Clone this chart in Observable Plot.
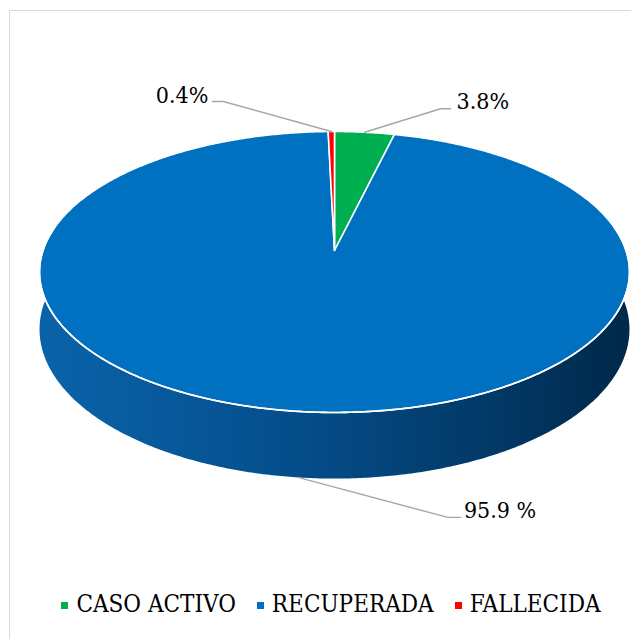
<!DOCTYPE html>
<html>
<head>
<meta charset="utf-8">
<script src="https://cdn.jsdelivr.net/npm/d3@7"></script>
<script src="https://cdn.jsdelivr.net/npm/@observablehq/plot@0.6"></script>
<style>
html, body { margin: 0; padding: 0; background: #fff; width: 631px; height: 639px; overflow: hidden; }
#wrap { position: relative; width: 631px; height: 639px; font-family: "DejaVu Serif Condensed", "DejaVu Serif", serif; }
#frame { position: absolute; left: 9px; top: 10px; width: 700px; height: 700px; border: 1.5px solid #d9d9d9; box-sizing: border-box; pointer-events: none; }
#chart svg { display: block; }
#chart svg text { font-family: "DejaVu Serif Condensed", "DejaVu Serif", serif; }
#legend { display: flex; justify-content: center; padding-left: 31px; margin-top: 7px; font-size: 24px; line-height: 24px; color: #000; white-space: nowrap; }
.item { display: flex; align-items: center; margin: 0 10.5px; }
.sw { width: 7px; height: 7px; margin-right: 8px; position: relative; top: 1px; }
</style>
</head>
<body>
<div id="wrap">
  <div id="chart"></div>
  <div id="legend"></div>
  <div id="frame"></div>
</div>
<script>
// ---- data ----
const categories = ["CASO ACTIVO", "RECUPERADA", "FALLECIDA"];
const values = [3.8, 95.9, 0.4];
const labels = ["3.8%", "95.9 %", "0.4%"];
const colors = ["#00b050", "#0070c0", "#ff0000"];

// ---- layout (pixels) ----
const CX = 334, CY = 250, RX = 291.5, RY = 137.2, DEPTH = 56, PERSP = 6.54;
const labelLayout = [
  { elbow: [76, -23.5], end: [86, -23.5], tdx: 6, tdy: 0.5, anchor: "start" },
  { elbow: [150, 40], end: [163, 40], tdx: 3, tdy: 1, anchor: "start" },
  { elbow: [-108, -30], end: [-119, -30], tdx: -4, tdy: 1, anchor: "end" }
];

const kf = v => PERSP / (PERSP - v);
function proj(deg) {
  const t = (deg - 90) * Math.PI / 180;
  const c = Math.cos(t), s = Math.sin(t), f = kf(s);
  return { x: c * f, y: s * f, f };
}
const dUnit = DEPTH / RY;
const total = d3.sum(values);
let acc = 0;
const slices = values.map((v, i) => {
  const a0 = acc / total * 360; acc += v; const a1 = acc / total * 360;
  return { i, a0, a1, mid: (a0 + a1) / 2 };
});

function arcPts(a0, a1) {
  const n = Math.max(2, Math.ceil(Math.abs(a1 - a0) / 0.5));
  return d3.range(n + 1).map(j => proj(a0 + (a1 - a0) * j / n));
}

const sideTop = arcPts(75, 285);
const sidePts = sideTop.map(p => ({ x: p.x, y: p.y }))
  .concat(sideTop.slice().reverse().map(p => ({ x: p.x, y: p.y + dUnit * p.f })));

const marks = [];
marks.push(Plot.line(sidePts, { x: "x", y: "y", fill: "url(#sideGrad)", stroke: "none", curve: "linear" }));

slices.forEach(s => {
  const pts = [{ x: 0, y: 0 }].concat(arcPts(s.a0, s.a1)).concat([{ x: 0, y: 0 }]);
  marks.push(Plot.line(pts, { x: "x", y: "y", fill: colors[s.i], stroke: "#fff", strokeWidth: 1.6, strokeLinejoin: "round", curve: "linear" }));
});
marks.push(Plot.line(arcPts(80, 280), { x: "x", y: "y", stroke: "#fff", strokeWidth: 1.6, curve: "linear" }));

slices.forEach(s => {
  const p = proj(s.mid);
  const front = s.mid > 90 && s.mid < 270;
  const anchor = front ? { x: p.x, y: p.y + dUnit * p.f } : { x: p.x, y: p.y };
  const L = labelLayout[s.i];
  const toM = ([dx, dy]) => ({ x: anchor.x + dx / RX, y: anchor.y + dy / RY });
  const pts = [anchor, toM(L.elbow), toM(L.end)];
  marks.push(Plot.line(pts, { x: "x", y: "y", stroke: "#a6a6a6", strokeWidth: 1.4, curve: "linear" }));
  marks.push(Plot.text([{ ...pts[2], label: labels[s.i] }], {
    x: "x", y: "y", text: "label", dx: L.tdx, dy: L.tdy, textAnchor: L.anchor, lineAnchor: "bottom",
    fontSize: 23, fill: "#000"
  }));
});

const svg = Plot.plot({
  width: 631, height: 585, margin: 0,
  x: { domain: [-1, 1], range: [CX - RX, CX + RX], axis: null },
  y: { domain: [-1, 1], range: [CY - RY, CY + RY], axis: null },
  style: { background: "transparent", overflow: "visible" },
  marks
});

const ns = "http://www.w3.org/2000/svg";
const defs = document.createElementNS(ns, "defs");
const lg = document.createElementNS(ns, "linearGradient");
lg.setAttribute("id", "sideGrad");
lg.setAttribute("x1", "0"); lg.setAttribute("x2", "1"); lg.setAttribute("y1", "0"); lg.setAttribute("y2", "0");
[[0, "#0a63aa"], [0.4, "#054f8e"], [0.75, "#023a68"], [1, "#00284a"]].forEach(([o, c]) => {
  const st = document.createElementNS(ns, "stop");
  st.setAttribute("offset", o); st.setAttribute("stop-color", c);
  lg.appendChild(st);
});
defs.appendChild(lg);
svg.insertBefore(defs, svg.firstChild);
document.getElementById("chart").appendChild(svg);

const legend = document.getElementById("legend");
categories.forEach((c, i) => {
  const it = document.createElement("div"); it.className = "item";
  const sw = document.createElement("span"); sw.className = "sw"; sw.style.background = colors[i];
  const tx = document.createElement("span"); tx.textContent = c;
  it.appendChild(sw); it.appendChild(tx); legend.appendChild(it);
});
</script>
</body>
</html>
